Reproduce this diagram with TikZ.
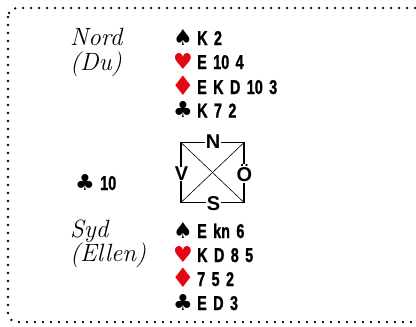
\documentclass[tikz,border=0pt]{standalone}
\usepackage{fontspec}
\newfontfamily\cardfont[FakeStretch=0.72,FakeBold=1.2,WordSpace=1.6,UprightFont=* Bold]{Liberation Sans}
\newfontfamily\dirfont[UprightFont=* Bold]{Liberation Sans}
\newfontfamily\suitfont{DejaVu Sans}
\definecolor{suitred}{RGB}{227,6,19}
\tikzset{
  frame/.style={line width=2.6pt, line cap=round, dash pattern=on 0pt off 8pt, rounded corners=9pt},
  player/.style={anchor=base west, inner sep=0pt, font=\fontsize{25}{25}\selectfont\itshape},
  suit/.style={anchor=base, inner sep=0pt, font=\fontsize{22}{22}\suitfont},
  redsuit/.style={suit, text=suitred},
  bigsuit/.style={redsuit, font=\fontsize{27}{27}\suitfont},
  cards/.style={anchor=base west, inner sep=0pt, font=\fontsize{20}{20}\cardfont},
  dir/.style={inner sep=0.5pt, fill=white, font=\fontsize{20}{20}\dirfont},
  box/.style={line width=1.2pt},
  diag/.style={line width=0.6pt}
}
\begin{document}
\begin{tikzpicture}[x=1pt,y=-1pt]
\useasboundingbox (0,0) rectangle (416,327);
\begin{scope}
\clip (0,0) rectangle (416,327);
\draw[frame] (8,8) rectangle (432,322);
\end{scope}
% North
\node[player] (nord) at (70,45) {Nord};
\node[player] (du) at (70,70) {(Du)};
\node[suit] (ns) at (183,45) {♠};
\node[cards] (nsc) at (197,45) {K 2};
\node[redsuit] (nh) at (183,69) {♥};
\node[cards] (nhc) at (197,69) {E 10 4};
\node[bigsuit] (nd) at (183,95.5) {♦};
\node[cards] (ndc) at (197,94) {E K D 10 3};
\node[suit] (nc) at (183,117.5) {♣};
\node[cards] (ncc) at (197,117.5) {K 7 2};
% compass
\coordinate (tl) at (181,142.5);
\coordinate (tr) at (244,142.5);
\coordinate (bl) at (181,202.5);
\coordinate (br) at (244,202.5);
\draw[box] (tl) -- (tr) -- (br) -- (bl) -- cycle;
\draw[diag] (tl) -- (br);
\draw[diag] (tr) -- (bl);
\node[dir] (dn) at (213,141.7) {N};
\node[dir] (ds) at (213.5,203.5) {S};
\node[dir] (dv) at (181.5,174) {V};
\node[dir] (do) at (244.5,173.5) {Ö};
% played card
\node[suit] (pc) at (85,190) {♣};
\node[cards] (pcc) at (100,190) {10};
% South
\node[player] (syd) at (70,237) {Syd};
\node[player] (ellen) at (70,261) {(Ellen)};
\node[suit] (ss) at (183,238) {♠};
\node[cards] (ssc) at (197,238) {E kn 6};
\node[redsuit] (sh) at (183,262) {♥};
\node[cards] (shc) at (197,262) {K D 8 5};
\node[bigsuit] (sd) at (183,287.5) {♦};
\node[cards] (sdc) at (197,286) {7 5 2};
\node[suit] (sc) at (183,310) {♣};
\node[cards] (scc) at (197,310) {E D 3};
\end{tikzpicture}
\end{document}
